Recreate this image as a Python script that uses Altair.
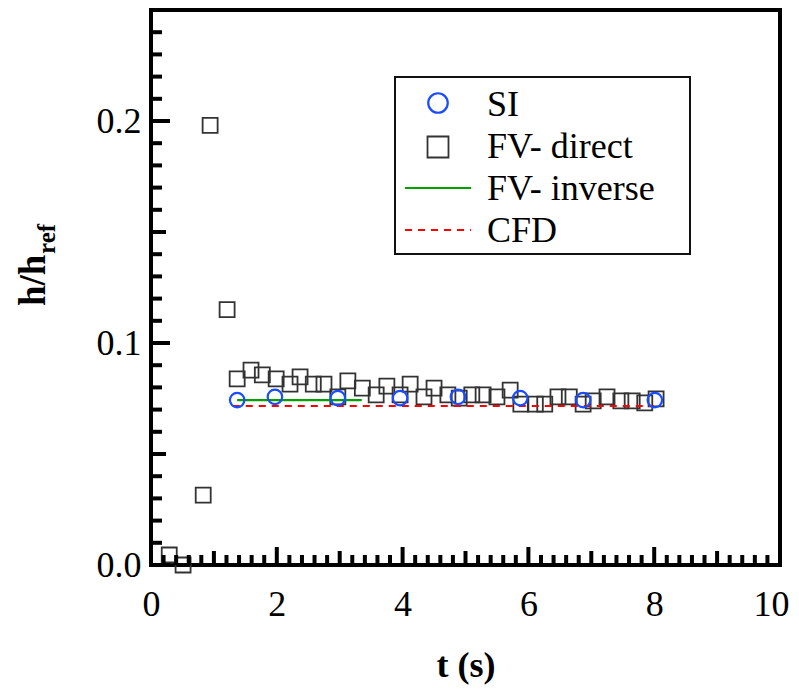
import altair as alt
import pandas as pd

# ---- data ----
fv_direct_t = [0.29, 0.51, 0.83, 0.94, 1.21, 1.37, 1.59, 1.77, 1.99, 2.21, 2.37, 2.58, 2.75,
               2.97, 3.13, 3.36, 3.58, 3.75, 3.96, 4.12, 4.34, 4.50, 4.72, 4.90, 5.10, 5.28,
               5.50, 5.71, 5.88, 6.11, 6.26, 6.47, 6.65, 6.87, 7.03, 7.25, 7.47, 7.65, 7.85, 8.03]
fv_direct_h = [0.0045, 0.0, 0.0315, 0.198, 0.115, 0.0838, 0.0878, 0.0856, 0.0838, 0.0815, 0.0847,
               0.0815, 0.0815, 0.0757, 0.0829, 0.0797, 0.0766, 0.0806, 0.0766, 0.0815, 0.0757,
               0.0797, 0.0766, 0.0752, 0.0766, 0.0766, 0.0757, 0.0788, 0.0725, 0.0725, 0.0725,
               0.0757, 0.0757, 0.0725, 0.0739, 0.0757, 0.0739, 0.0739, 0.0730, 0.0748]
si_t = [1.37, 1.97, 2.97, 3.96, 4.88, 5.87, 6.87, 8.01]
si_h = [0.0743, 0.0757, 0.0752, 0.0752, 0.0757, 0.0752, 0.0743, 0.0743]
fv_inverse_t = [1.37, 3.35]
fv_inverse_h = [0.0743, 0.0743]
cfd_t = [1.30, 8.0]
cfd_h = [0.0716, 0.0716]

x_label_values = [0, 2, 4, 6, 8, 10]
y_label_values = [0.0, 0.1, 0.2]
legend_labels = ["SI", "FV- direct", "FV- inverse", "CFD"]

# tick positions (inward ticks drawn as rules)
x_minor = [round(i * 0.2, 1) for i in range(51) if i % 5 != 0]
x_mid = [1, 3, 5, 7, 9]
x_major = [0, 2, 4, 6, 8, 10]
y_minor = [round(i * 0.01, 2) for i in range(26) if i % 5 != 0]
y_mid = [0.05, 0.15, 0.25]
y_major = [0.0, 0.1, 0.2]

W, H = 629, 555
FONT = "Liberation Serif"

xscale = alt.Scale(domain=[0, 10], nice=False, zero=False)
yscale = alt.Scale(domain=[0, 0.25], nice=False, zero=False)
xaxis = alt.Axis(values=x_label_values, format="d", title="t (s)", grid=False, domain=False,
                 ticks=False, tickSize=0, labelFont=FONT, labelFontSize=36, labelColor="black",
                 labelPadding=22, titleFont=FONT, titleFontSize=36, titleFontWeight="bold",
                 titleColor="black", titlePadding=26, labelFlush=True, labelFlushOffset=9)
yaxis = alt.Axis(values=y_label_values, format=".1f", title=None, grid=False, domain=False,
                 ticks=False, tickSize=0, labelFont=FONT, labelFontSize=36, labelColor="black",
                 labelPadding=10)

X = alt.X("t:Q", scale=xscale, axis=xaxis)
Y = alt.Y("h:Q", scale=yscale, axis=yaxis)

df_fv = pd.DataFrame({"t": fv_direct_t, "h": fv_direct_h})
df_si = pd.DataFrame({"t": si_t, "h": si_h})
df_inv = pd.DataFrame({"t": fv_inverse_t, "h": fv_inverse_h})
df_cfd = pd.DataFrame({"t": cfd_t, "h": cfd_h})

squares = alt.Chart(df_fv).mark_point(shape="square", filled=False, size=225,
                                      stroke="#333333", strokeWidth=1.8, opacity=1).encode(x=X, y=Y)
cfd = alt.Chart(df_cfd).mark_line(color="#ff0000", strokeWidth=2, strokeDash=[7, 6]).encode(x=X, y=Y)
inv = alt.Chart(df_inv).mark_line(color="#00a000", strokeWidth=2.2).encode(x=X, y=Y)
circles = alt.Chart(df_si).mark_point(shape="circle", filled=False, size=210,
                                      stroke="#1a4cff", strokeWidth=2.2, opacity=1).encode(x=X, y=Y)

def xticks(vals, length):
    return alt.Chart(pd.DataFrame({"t": vals})).mark_rule(color="black", strokeWidth=4).encode(
        x=X, y=alt.value(H), y2=alt.value(H - length))

def yticks(vals, length):
    return alt.Chart(pd.DataFrame({"h": vals})).mark_rule(color="black", strokeWidth=4).encode(
        y=Y, x=alt.value(0), x2=alt.value(length))

ticks = [xticks(x_minor, 10), xticks(x_mid, 14), xticks(x_major, 18),
         yticks(y_minor, 11), yticks(y_mid, 15), yticks(y_major, 19)]

one = pd.DataFrame({"a": [0]})
legend_box = alt.Chart(one).mark_rect(fill="white", stroke="#111111", strokeWidth=2).encode(
    x=alt.value(244), x2=alt.value(539), y=alt.value(67), y2=alt.value(244))
leg_si = alt.Chart(one).mark_point(shape="circle", filled=False, size=380, stroke="#1a4cff",
                                   strokeWidth=2.2, opacity=1).encode(x=alt.value(287), y=alt.value(93))
leg_sq = alt.Chart(one).mark_point(shape="square", filled=False, size=440, stroke="#333333",
                                   strokeWidth=1.8, opacity=1).encode(x=alt.value(287), y=alt.value(137))
leg_inv = alt.Chart(one).mark_rule(color="#00a000", strokeWidth=2.2).encode(
    x=alt.value(254), x2=alt.value(320), y=alt.value(178))
leg_cfd = alt.Chart(one).mark_rule(color="#ff0000", strokeWidth=2, strokeDash=[7, 6]).encode(
    x=alt.value(254), x2=alt.value(320), y=alt.value(220))
leg_rows_y = [95, 137, 179, 221]
leg_texts = [
    alt.Chart(one).mark_text(text=lab, font=FONT, fontSize=36, align="left", baseline="middle",
                             color="black").encode(x=alt.value(336), y=alt.value(yy))
    for lab, yy in zip(legend_labels, leg_rows_y)
]

ytitle_main = alt.Chart(one).mark_text(text="h/h", font=FONT, fontSize=37, fontWeight="bold",
                                       angle=270, align="left", baseline="alphabetic",
                                       color="black").encode(x=alt.value(-106), y=alt.value(296))
ytitle_sub = alt.Chart(one).mark_text(text="ref", font=FONT, fontSize=25, fontWeight="bold",
                                      angle=270, align="left", baseline="alphabetic",
                                      color="black").encode(x=alt.value(-96), y=alt.value(244))

chart = alt.layer(squares, cfd, inv, circles, *ticks, legend_box, leg_si, leg_sq, leg_inv,
                  leg_cfd, *leg_texts, ytitle_main, ytitle_sub).properties(
    width=W, height=H,
    autosize=alt.AutoSizeParams(type="none"),
    padding={"left": 143, "top": 2, "right": 11, "bottom": 125},
).configure_view(stroke="black", strokeWidth=4)

chart.save("out.html", embed_options={"renderer": "svg", "actions": False})
